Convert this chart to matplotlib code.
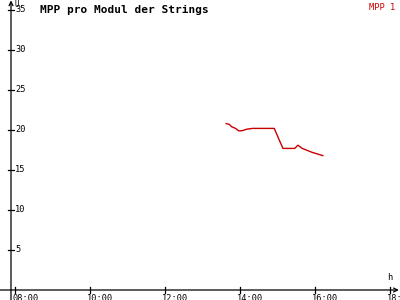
import matplotlib.pyplot as plt

times = ['13:38', '13:43', '13:47', '13:53', '13:58', '14:03', '14:11', '14:20',
         '14:55', '15:09', '15:28', '15:33', '15:40', '15:56', '16:13']
mpp1 = [20.8, 20.7, 20.4, 20.2, 19.9, 19.9, 20.1, 20.2,
        20.2, 17.7, 17.7, 18.1, 17.7, 17.2, 16.8]
x_ticks = [8, 10, 12, 14, 16, 18]
x_labels = ['08:00', '10:00', '12:00', '14:00', '16:00', '18:00']
y_ticks = [5, 10, 15, 20, 25, 30, 35]

hours = [int(t[:2]) + int(t[3:]) / 60 for t in times]

mono = 'DejaVu Sans Mono'
red = '#c80000'

fig = plt.figure(figsize=(4, 3), dpi=100)
ax = fig.add_axes([0, 0, 1, 1])
ax.set_xlim(7.586, 18.28)
ax.set_ylim(-1.25, 36.25)
ax.axis('off')

x0 = 7.88
# axes with arrows
ax.annotate('', xy=(18.25, 0), xytext=(7.586, 0),
            arrowprops=dict(arrowstyle='->', lw=0.9, color='black', shrinkA=0, shrinkB=0,
                            mutation_scale=7))
ax.annotate('', xy=(x0, 36.2), xytext=(x0, -1.25),
            arrowprops=dict(arrowstyle='->', lw=0.9, color='black', shrinkA=0, shrinkB=0,
                            mutation_scale=7))

for xt, lab in zip(x_ticks, x_labels):
    ax.plot([xt, xt], [-0.35, 0.35], color='black', lw=0.9)
    ax.text(xt - 0.08, -0.45, lab, fontsize=6.2, family=mono, ha='left', va='top')

for yt in y_ticks:
    ax.plot([x0 - 0.08, x0 + 0.08], [yt, yt], color='black', lw=0.9)
    ax.text(x0 + 0.11, yt, str(yt), fontsize=6.2, family=mono, ha='left', va='center')

ax.text(x0 + 0.1, 36.2, 'U', fontsize=5.5, family=mono, ha='left', va='top')
ax.text(18.0, 1.0, 'h', fontsize=6.2, family=mono, ha='center', va='bottom')

ax.plot(hours, mpp1, color=red, lw=1.0)

fig.text(0.1, 0.985, 'MPP pro Modul der Strings', fontsize=8, family=mono,
         fontweight='bold', ha='left', va='top')
fig.text(0.988, 0.99, 'MPP 1', fontsize=6.2, family=mono, color=red,
         ha='right', va='top')

fig.savefig('out.png', dpi=100)
